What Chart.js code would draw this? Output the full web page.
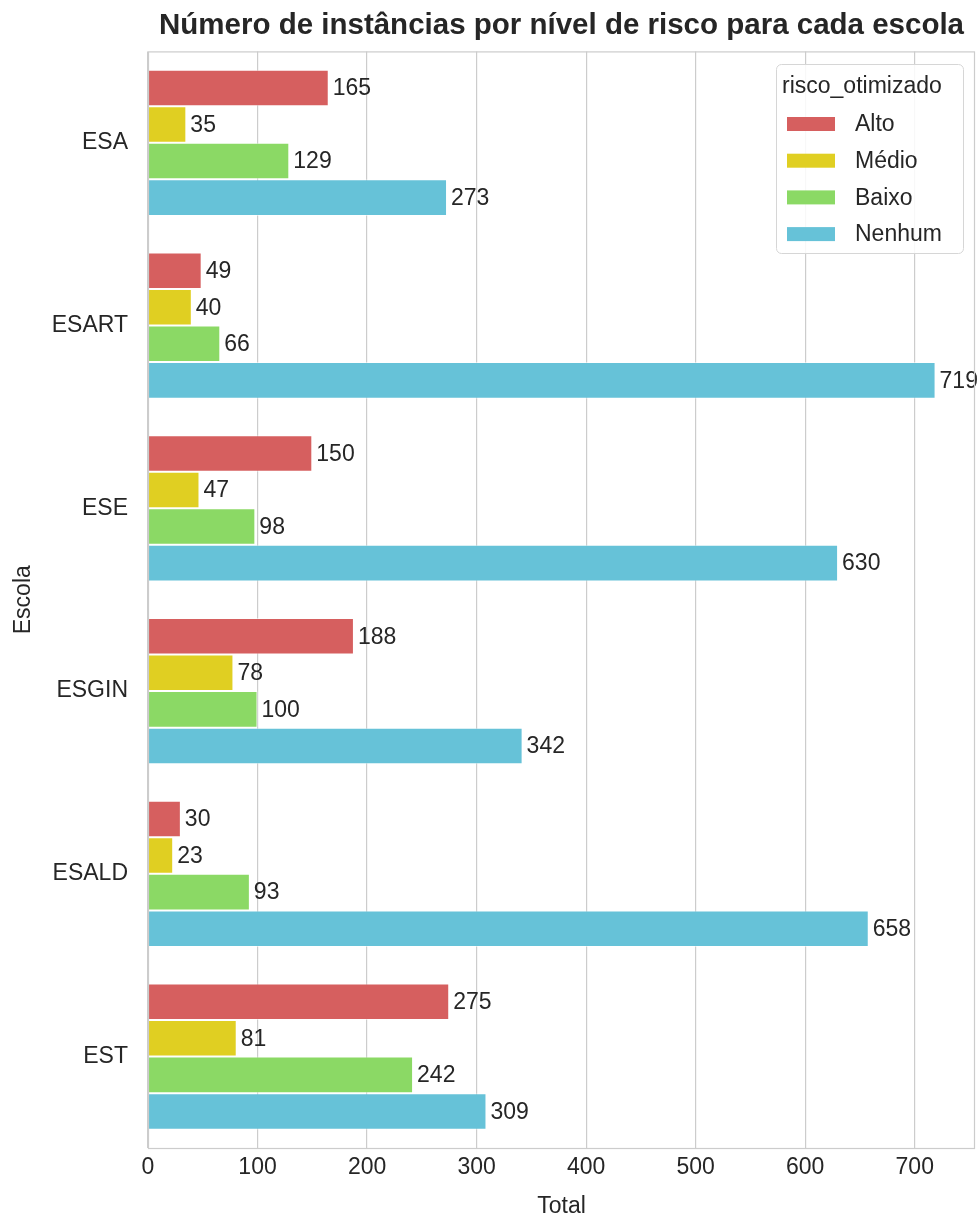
<!DOCTYPE html>
<html>
<head>
<meta charset="utf-8">
<script src="https://cdn.jsdelivr.net/npm/chart.js@4.4.1/dist/chart.umd.min.js"></script>
<style>
  html, body { margin: 0; padding: 0; background: #fff; }
  #wrap { width: 980px; height: 1220px; }
</style>
</head>
<body>
<div id="wrap"><canvas id="barChart"></canvas></div>
<script>
var escolas = ['ESA', 'ESART', 'ESE', 'ESGIN', 'ESALD', 'EST'];
var alto = [165, 49, 150, 188, 30, 275];
var medio = [35, 40, 47, 78, 23, 81];
var baixo = [129, 66, 98, 100, 93, 242];
var nenhum = [273, 719, 630, 342, 658, 309];
var xTicks = [0, 100, 200, 300, 400, 500, 600, 700];

var textColor = '#262626';
var gridColor = '#cccccc';
var fontFamily = '"Liberation Sans", Arial, sans-serif';

var data = {
    labels: escolas,
    datasets: [
        { label: 'Alto', data: alto, backgroundColor: '#d65f5f' },
        { label: 'Médio', data: medio, backgroundColor: '#e0cf22' },
        { label: 'Baixo', data: baixo, backgroundColor: '#8bd965' },
        { label: 'Nenhum', data: nenhum, backgroundColor: '#66c2d8' }
    ]
};
data.datasets.forEach(function (ds) {
    ds.borderColor = 'rgba(255,255,255,0.5)';
    ds.borderWidth = 1;
    ds.categoryPercentage = 0.8;
    ds.barPercentage = 1.0;
});

// value labels at the end of each bar
var valueLabels = {
    id: 'valueLabels',
    afterDatasetsDraw: function (chart) {
        var ctx = chart.ctx;
        ctx.save();
        ctx.font = '23px ' + fontFamily;
        ctx.fillStyle = textColor;
        ctx.textAlign = 'left';
        ctx.textBaseline = 'middle';
        chart.data.datasets.forEach(function (ds, i) {
            chart.getDatasetMeta(i).data.forEach(function (bar, j) {
                ctx.fillText(String(ds.data[j]), bar.x + 4, bar.y + 1);
            });
        });
        ctx.restore();
    }
};

// spines round the plot and a legend box inside it
var frameAndLegend = {
    id: 'frameAndLegend',
    afterDraw: function (chart) {
        var ctx = chart.ctx;
        var a = chart.chartArea;
        ctx.save();
        ctx.strokeStyle = gridColor;
        ctx.lineWidth = 1.2;
        ctx.strokeRect(a.left + 0.5, a.top + 0.5, a.right - a.left - 1, a.bottom - a.top);

        var lx = 776, ly = 64, lw = 187, lh = 189;
        ctx.fillStyle = 'rgba(255,255,255,0.85)';
        ctx.strokeStyle = '#d6d6d6';
        ctx.lineWidth = 1;
        ctx.beginPath();
        ctx.roundRect(lx + 0.5, ly + 0.5, lw, lh, 5);
        ctx.fill();
        ctx.stroke();

        ctx.fillStyle = textColor;
        ctx.font = '23px ' + fontFamily;
        ctx.textBaseline = 'middle';
        ctx.textAlign = 'left';
        ctx.fillText('risco_otimizado', lx + 6, ly + 23);
        chart.data.datasets.forEach(function (ds, i) {
            var y = ly + 60 + i * 36.7;
            ctx.fillStyle = ds.backgroundColor;
            ctx.fillRect(lx + 11, y - 7, 48, 14);
            ctx.fillStyle = textColor;
            ctx.fillText(ds.label, lx + 79, y + 1);
        });
        ctx.restore();
    }
};

var config = {
    type: 'bar',
    data: data,
    options: {
        indexAxis: 'y',
        responsive: true,
        maintainAspectRatio: false,
        animation: false,
        layout: { padding: { top: 0, right: 5, left: 0, bottom: 0 } },
        plugins: {
            legend: { display: false },
            tooltip: { enabled: false },
            title: {
                display: true,
                text: 'Número de instâncias por nível de risco para cada escola',
                fullSize: false,
                color: textColor,
                font: { family: fontFamily, size: 29.5, weight: 'bold' },
                padding: { top: 8, bottom: 8 }
            }
        },
        scales: {
            x: {
                min: 0,
                max: 755,
                afterBuildTicks: function (scale) {
                    scale.ticks = xTicks.map(function (v) { return { value: v }; });
                },
                afterFit: function (scale) { scale.height = 72; },
                grid: { color: gridColor, lineWidth: 1.2, drawTicks: false },
                border: { display: false },
                ticks: { color: textColor, padding: 6, font: { family: fontFamily, size: 23 } },
                title: {
                    display: true, text: 'Total', color: textColor,
                    font: { family: fontFamily, size: 23 },
                    padding: { top: 0, bottom: 0 }
                }
            },
            y: {
                afterFit: function (scale) { scale.width = 148; },
                grid: { display: false, drawTicks: false },
                border: { display: false },
                ticks: { color: textColor, padding: 20, font: { family: fontFamily, size: 23 } },
                title: {
                    display: true, text: 'Escola', color: textColor,
                    font: { family: fontFamily, size: 23 },
                    padding: { top: 10, bottom: 0 }
                }
            }
        }
    },
    plugins: [valueLabels, frameAndLegend]
};

var barChart = new Chart(document.getElementById('barChart'), config);
</script>
</body>
</html>
